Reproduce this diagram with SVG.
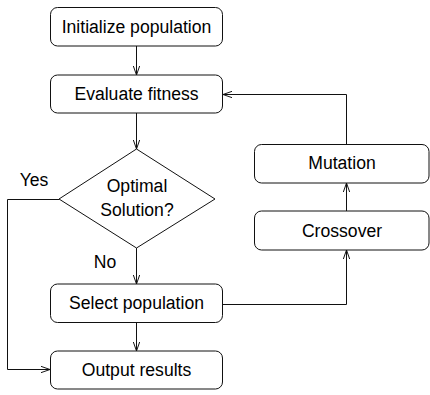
<svg xmlns="http://www.w3.org/2000/svg" width="430" height="395" viewBox="0 0 430 395">
<defs>
<marker id="arr" viewBox="0 0 10 10" refX="10" refY="5" markerWidth="9" markerHeight="9" markerUnits="userSpaceOnUse" orient="auto">
<path d="M0,1.5 L10,5 L0,8.5" fill="none" stroke="#111" stroke-width="1.1"/>
</marker>
<style>
.n{fill:#fff;stroke:#111;stroke-width:1}
.t{font-family:"Liberation Sans",Arial,sans-serif;font-size:17.6px;fill:#000;text-anchor:middle;dominant-baseline:central}
.c{fill:none;stroke:#111;stroke-width:1}
</style>
</defs>
<rect width="430" height="395" fill="#fff"/>
<g id="connectors">
<path class="c" d="M136.5,46 V75" marker-end="url(#arr)"/>
<path class="c" d="M136.5,113 V149" marker-end="url(#arr)"/>
<path class="c" d="M136.5,248 V284" marker-end="url(#arr)"/>
<path class="c" d="M136.5,323 V351" marker-end="url(#arr)"/>
<path class="c" d="M59,199.5 H7.5 V369.5 H50" marker-end="url(#arr)"/>
<path class="c" d="M223,304.5 H346.5 V250" marker-end="url(#arr)"/>
<path class="c" d="M346.5,211 V183" marker-end="url(#arr)"/>
<path class="c" d="M346.5,144 V94.5 H223" marker-end="url(#arr)"/>
</g>
<g id="init"><rect class="n" x="50.5" y="7.5" width="172" height="38.5" rx="7"/><text class="t" x="136.5" y="27">Initialize population</text></g>
<g id="eval"><rect class="n" x="50.5" y="75" width="172" height="38" rx="7"/><text class="t" x="136.5" y="94">Evaluate fitness</text></g>
<g id="decision"><path class="n" d="M136.5,149 L215,199 L136.5,248 L59,199 Z"/><text class="t" x="137" y="186">Optimal</text><text class="t" x="137" y="210">Solution?</text></g>
<g id="select"><rect class="n" x="50.5" y="284" width="172" height="38.5" rx="7"/><text class="t" x="136.5" y="303">Select population</text></g>
<g id="output"><rect class="n" x="50.5" y="351" width="172" height="38" rx="7"/><text class="t" x="136.5" y="370">Output results</text></g>
<g id="crossover"><rect class="n" x="254.5" y="211" width="174.5" height="39" rx="7"/><text class="t" x="342" y="231">Crossover</text></g>
<g id="mutation"><rect class="n" x="254.5" y="144.5" width="174.5" height="38.5" rx="7"/><text class="t" x="342" y="163">Mutation</text></g>
<text class="t" x="34" y="180">Yes</text>
<text class="t" x="105" y="262">No</text>
</svg>
